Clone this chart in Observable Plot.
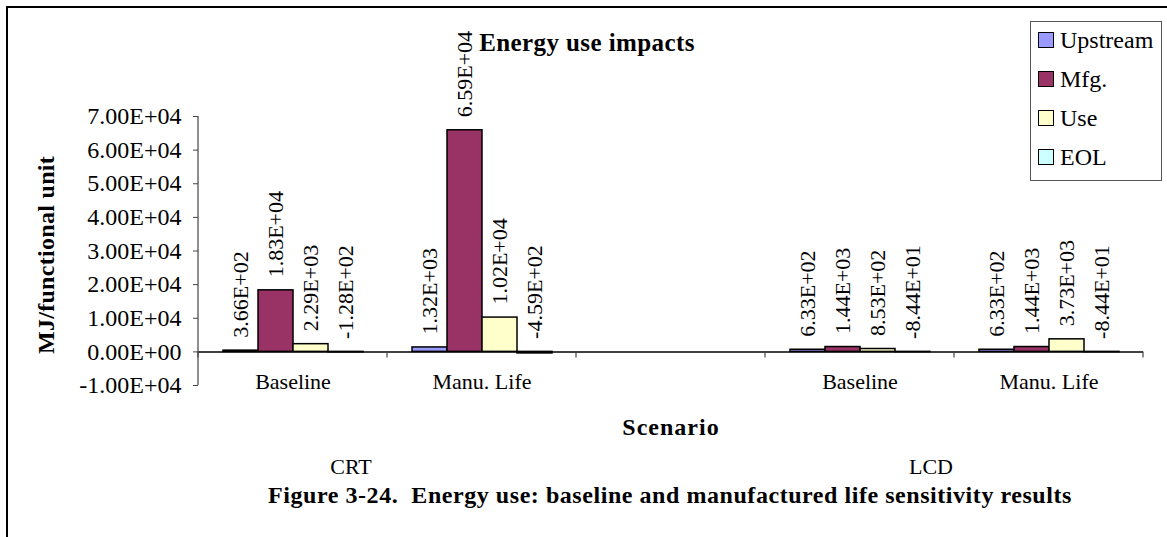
<!DOCTYPE html>
<html><head><meta charset="utf-8">
<script src="https://cdn.jsdelivr.net/npm/d3@7"></script>
<script src="https://cdn.jsdelivr.net/npm/@observablehq/plot@0.6"></script>
<style>
html,body{margin:0;padding:0;background:#fff;}
#wrap{position:relative;width:1167px;height:537px;overflow:hidden;font-family:"Liberation Serif","Times New Roman",serif;color:#000;background:#fff;}
#wrap *{font-family:"Liberation Serif","Times New Roman",serif;}
#chart{position:absolute;left:0;top:0;}
.t{position:absolute;white-space:pre;line-height:1;transform:translate(-50%,-50%);}
.b{font-weight:bold;}
#legend{position:absolute;left:1030px;top:21px;width:130px;height:158px;border:1px solid #555;background:#fff;}
.li{position:absolute;left:7px;height:24px;display:flex;align-items:center;font-size:24px;line-height:1;}
.sw{width:14px;height:14px;border:1.5px solid #000;margin-right:6px;flex:none;}
</style></head><body>
<div id="wrap">
  <div id="chart"></div>
  <div id="frame" style="position:absolute;left:6px;top:6px;width:1300px;height:700px;border-left:2px solid #000;border-top:2px solid #000;pointer-events:none;"></div>
  <div class="t b" style="left:587px;top:42px;font-size:25px;letter-spacing:0.4px;">Energy use impacts</div>
  <div class="t b" style="left:46px;top:255px;font-size:24px;letter-spacing:0.3px;transform:translate(-50%,-50%) rotate(-90deg);">MJ/functional unit</div>
  <div class="t b" style="left:671px;top:427px;font-size:24px;letter-spacing:1px;">Scenario</div>
  <div id="groups"></div>
  <div class="t b" style="left:670px;top:495px;font-size:24px;letter-spacing:0.55px;">Figure 3-24.  Energy use: baseline and manufactured life sensitivity results</div>
  <div id="legend"></div>
</div>
<script>
// ---- data ----
const series = ["Upstream", "Mfg.", "Use", "EOL"];
const seriesColors = ["#9999FF", "#993366", "#FFFFCC", "#CCFFFF"];
const scenarios = ["Baseline", "Manu. Life", "", "Baseline", "Manu. Life"];
const displayTypes = ["CRT", "LCD"];
const upstream = [366, 1320, null, 633, 633];
const mfg = [18300, 65900, null, 1440, 1440];
const use = [2290, 10200, null, 853, 3730];
const eol = [-128, -459, null, -84.4, -84.4];
const yTicks = [-10000, 0, 10000, 20000, 30000, 40000, 50000, 60000, 70000];

const FONT = "Liberation Serif, Times New Roman, serif";
const fmt = v => {
  const [m, e] = v.toExponential(2).split("e");
  const n = +e;
  return m + "E" + (n < 0 ? "-" : "+") + String(Math.abs(n)).padStart(2, "0");
};

const keys = scenarios.map((s, i) => i);
const valuesBySeries = [upstream, mfg, use, eol];
const rows = [];
keys.forEach(k => {
  series.forEach((s, j) => {
    const v = valuesBySeries[j][k];
    if (v != null) rows.push({key: k, series: s, value: v});
  });
});

const plot = Plot.plot({
  width: 1167,
  height: 537,
  marginLeft: 198,
  marginRight: 24,
  marginTop: 116,
  marginBottom: 152,
  style: {fontFamily: FONT, background: "transparent", color: "#000"},
  fx: {domain: keys, padding: 0, label: null},
  x: {domain: series, paddingInner: 0, paddingOuter: 0.7, axis: null},
  y: {domain: [-10000, 70000]},
  color: {domain: series, range: seriesColors},
  marks: [
    Plot.barY(rows, {fx: "key", x: "series", y: "value", fill: "series", stroke: "#000", strokeWidth: 1.5}),
    Plot.ruleY(keys, {fx: d => d, y: () => 0, stroke: "#000", strokeWidth: 1.5}),
    Plot.text(rows, {fx: "key", x: "series", y: d => Math.max(0, d.value), text: d => fmt(d.value),
      rotate: -90, textAnchor: "start", lineAnchor: "middle", dy: -13, fontSize: 22, fontFamily: FONT, fill: "#000"}),
    Plot.axisY({ticks: yTicks, tickFormat: fmt, tickSize: 5, tickPadding: 12, fontSize: 24, fontFamily: FONT,
      stroke: "#444", fill: "#000", label: null, facetAnchor: "left"}),
    Plot.axisFx({anchor: "bottom", tickSize: 0, tickPadding: 0, tickFormat: i => scenarios[i], fontSize: 22,
      fontFamily: FONT, dy: -12, fill: "#000", label: null})
  ]
});
document.getElementById("chart").appendChild(plot);

// axis line and category-boundary tick marks from Plot's own scales
const svg = d3.select(plot);
const fxS = plot.scale("fx"), yS = plot.scale("y");
const edges = keys.map(k => fxS.apply(k));
edges.push(fxS.apply(keys[keys.length - 1]) + fxS.bandwidth);
const y0 = yS.apply(0);
svg.append("line").attr("x1", edges[0]).attr("x2", edges[0])
  .attr("y1", yS.apply(yTicks[yTicks.length - 1])).attr("y2", yS.apply(yTicks[0]))
  .attr("stroke", "#444").attr("stroke-width", 1.2);
edges.forEach(x => {
  svg.append("line").attr("x1", x).attr("x2", x).attr("y1", y0).attr("y2", y0 + 6)
    .attr("stroke", "#444").attr("stroke-width", 1.2);
});

// group labels (CRT / LCD) under their pairs of categories
const groups = document.getElementById("groups");
const groupCenters = [
  (edges[0] + edges[2]) / 2 - 36,
  (edges[3] + edges[5]) / 2 - 23
];
displayTypes.forEach((g, i) => {
  const d = document.createElement("div");
  d.className = "t";
  d.style.left = groupCenters[i] + "px";
  d.style.top = "467px";
  d.style.fontSize = "22px";
  d.textContent = g;
  groups.appendChild(d);
});

// legend
const legend = document.getElementById("legend");
series.forEach((s, i) => {
  const item = document.createElement("div");
  item.className = "li";
  item.style.top = (6 + i * 39) + "px";
  const sw = document.createElement("span");
  sw.className = "sw";
  sw.style.background = seriesColors[i];
  item.appendChild(sw);
  const tx = document.createElement("span");
  tx.textContent = s;
  item.appendChild(tx);
  legend.appendChild(item);
});
</script>
</body></html>
